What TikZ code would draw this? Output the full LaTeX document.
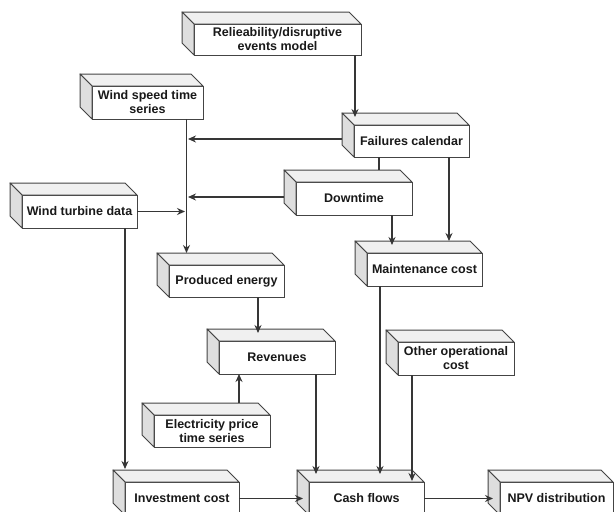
\documentclass[tikz,border=0pt]{standalone}
\usepackage{fontspec}
\setmainfont{Liberation Sans}
\usetikzlibrary{calc,arrows.meta}
\definecolor{edgec}{HTML}{444444}
\definecolor{topc}{HTML}{F0F0F0}
\definecolor{sidec}{HTML}{DEDEDE}
\tikzset{
  front/.style={draw=edgec, line width=1pt, fill=white, inner sep=0pt, outer sep=0pt,
    align=center, font=\bfseries\fontsize{12.5}{14}\selectfont, text=black!90},
  topface/.style={draw=edgec, line width=1pt, fill=topc, line join=round},
  sideface/.style={draw=edgec, line width=1pt, fill=sidec, line join=round},
  arr/.style={draw=edgec!80!black, line width=1.2pt, -{Stealth[length=8pt,width=7pt]}},
  plainline/.style={draw=edgec!80!black, line width=1.2pt}
}
\newcommand\cubenode[6]{%
  \node[front, minimum width=#4pt, minimum height=#5pt] (#1) at (#2,#3) {#6};
  \filldraw[topface] (#1.north west) -- ++(-12pt,12pt) -- ($(#1.north east)+(-12pt,12pt)$) -- (#1.north east) -- cycle;
  \filldraw[sideface] (#1.north west) -- ++(-12pt,12pt) -- ($(#1.south west)+(-12pt,12pt)$) -- (#1.south west) -- cycle;
}
\begin{document}
\begin{tikzpicture}[x=1pt,y=-1pt]
\clip (0,0) rectangle (614,512);
\fill[white] (0,0) rectangle (614,512);
% boxes
\cubenode{rel}{277.5}{39.5}{167}{31}{Relieability/disruptive\\events model}
\cubenode{ws}{147.5}{102.5}{111}{33}{Wind speed time\\series}
\cubenode{fail}{411.5}{141}{115}{32}{Failures calendar}
\cubenode{down}{354}{198.5}{116}{33}{Downtime}
\cubenode{wtd}{79.5}{211.5}{115}{33}{Wind turbine data}
\cubenode{maint}{424.5}{269.5}{115}{33}{Maintenance cost}
\cubenode{prod}{226.5}{281}{115}{32}{Produced energy}
\cubenode{rev}{277}{357.5}{116}{33}{Revenues}
\cubenode{other}{456}{358.5}{116}{33}{Other operational\\cost}
\cubenode{elec}{212}{431}{116}{32}{Electricity price\\time series}
\cubenode{inv}{182}{498.5}{114}{33}{Investment cost}
\cubenode{cash}{366.5}{498.5}{115}{33}{Cash flows}
\cubenode{npv}{556.5}{498.5}{113}{33}{NPV distribution}
% column coordinates
\coordinate (vx) at (186.5,0);
\coordinate (x355) at (355,0);
\coordinate (x379) at (379,0);
\coordinate (x449) at (449,0);
\coordinate (x392) at (392,0);
\coordinate (x125) at (125,0);
\coordinate (x258) at (258,0);
\coordinate (x239) at (239,0);
\coordinate (x316) at (316,0);
\coordinate (x380) at (380,0);
\coordinate (x412) at (412,0);
% connectors
\draw[arr] (rel.south -| x355) -- ($(fail.north -| x355)+(0,8pt)$);
\draw[arr] (ws.south -| vx) -- ($(prod.north -| vx)+(0,12pt)$);
\draw[arr] ($(fail.west)+(-12pt,2pt)$) -- ($(fail.west -| vx)+(1.5pt,2pt)$);
\draw[arr] ($(down.west)+(-12pt,1.5pt)$) -- ($(down.west -| vx)+(1.5pt,1.5pt)$);
\draw[arr] (wtd.east) -- ($(wtd.east -| vx)+(-1.5pt,0)$);
\draw[plainline] (fail.south -| x379) -- ($(down.north -| x379)+(0,12pt)$);
\draw[arr] (fail.south -| x449) -- ($(maint.north -| x449)+(0,12pt)$);
\draw[arr] (down.south -| x392) -- ($(maint.north -| x392)+(0,8pt)$);
\draw[arr] (wtd.south -| x125) -- ($(inv.north -| x125)+(0,13pt)$);
\draw[arr] (prod.south -| x258) -- ($(rev.north -| x258)+(0,8pt)$);
\draw[arr] ($(elec.north -| x239)+(0,12pt)$) -- (rev.south -| x239);
\draw[arr] (rev.south -| x316) -- ($(cash.north -| x316)+(0,8pt)$);
\draw[arr] (maint.south -| x380) -- ($(cash.north -| x380)+(0,8pt)$);
\draw[arr] (other.south -| x412) -- ($(cash.north -| x412)+(0,1pt)$);
\draw[arr] (inv.east) -- ($(cash.west)+(-6pt,0)$);
\draw[arr] (cash.east) -- ($(npv.west)+(-7pt,0)$);
\end{tikzpicture}
\end{document}
